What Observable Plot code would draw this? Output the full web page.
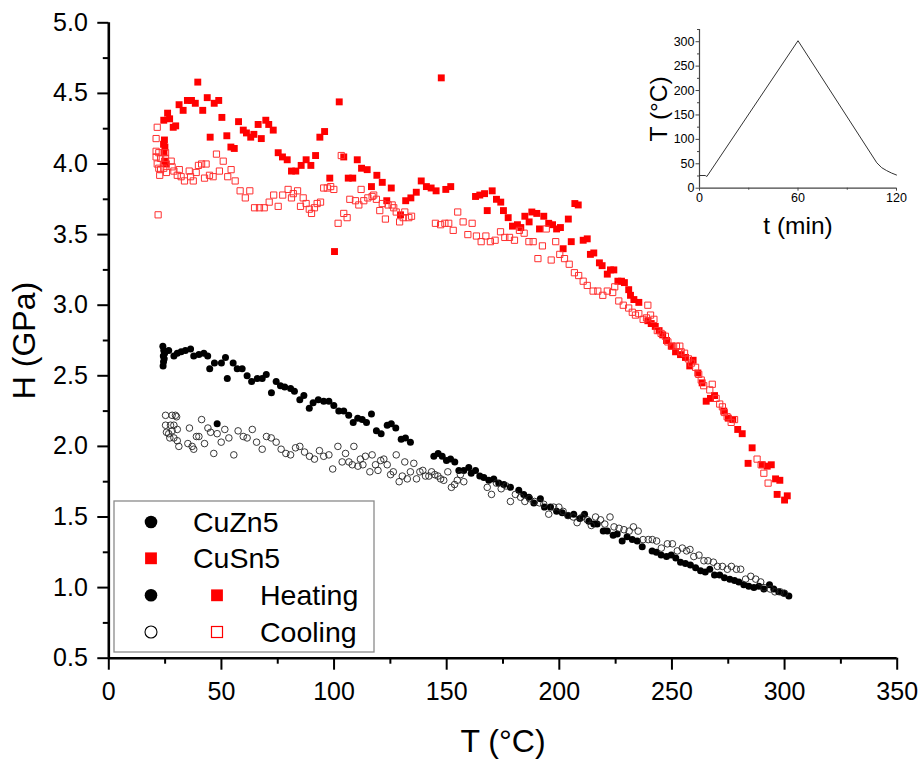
<!DOCTYPE html>
<html>
<head>
<meta charset="utf-8">
<script src="https://cdn.jsdelivr.net/npm/d3@7"></script>
<script src="https://cdn.jsdelivr.net/npm/@observablehq/plot@0.6"></script>
<style>
  html, body { margin: 0; padding: 0; background: white; }
  #wrap { position: relative; width: 921px; height: 761px; overflow: hidden; }
  #wrap svg { display: block; }
</style>
</head>
<body>
<div id="wrap"></div>
<script>
const FONT = "'Liberation Sans', Arial, Helvetica, sans-serif";

// ---- Main chart data: [T (°C), H (GPa)] ----
const cuZn5Heating = [
  [24.0,2.71],[24.4,2.68],[24.8,2.66],[24.2,2.64],[24.6,2.62],[24.3,2.60],[24.1,2.57],
  [26.6,2.68],[28.9,2.64],[30.4,2.66],[32.1,2.67],[34.0,2.68],[36.3,2.69],
  [37.7,2.64],[40.0,2.65],[42.2,2.66],[43.9,2.64],
  [44.8,2.55],[46.9,2.59],[50.0,2.59],[51.8,2.63],[52.6,2.48],
  [55.2,2.59],[57.0,2.55],[59.2,2.55],
  [61.4,2.50],[63.4,2.46],[65.9,2.48],[68.1,2.48],[69.9,2.51],
  [72.2,2.38],[74.3,2.46],[76.2,2.43],[78.1,2.42],[80.7,2.41],[82.4,2.39],
  [84.8,2.33],[86.6,2.36],[89.0,2.27],[90.7,2.31],[93.0,2.33],[95.4,2.32],[97.7,2.32],[99.9,2.29],[102.1,2.25],[104.3,2.25],[106.5,2.22],
  [48.1,2.16],
  [108.5,2.17],[110.5,2.20],[112.5,2.19],[114.4,2.17],[116.6,2.23],
  [118.8,2.11],[120.9,2.09],[123.6,2.15],[125.4,2.16],[127.4,2.13],
  [129.8,2.05],[131.7,2.06],[133.9,2.03],
  [144.3,1.93],[146.2,1.95],[148.0,1.93],[149.9,1.90],[151.7,1.91],[153.6,1.89],[155.4,1.83],
  [157.6,1.83],[159.8,1.85],[160.9,1.81],[162.8,1.83],[164.7,1.79],[166.5,1.78],[168.7,1.76],[170.9,1.77],[173.1,1.74],[175.4,1.73],[178.3,1.71],[182.0,1.69],[184.2,1.66],[186.5,1.64],[188.7,1.60],[191.6,1.63],[193.4,1.57],[196.1,1.57],[198.8,1.54],[201.3,1.53],[203.8,1.51],[206.4,1.52],[209.1,1.49],
  [211.2,1.52],[213.1,1.47],[215.3,1.45],[216.8,1.45],
  [219.5,1.40],[221.3,1.40],[223.9,1.37],[225.7,1.38],[227.9,1.33],[230.1,1.36],[232.4,1.34],[234.6,1.33],[236.8,1.29],
  [241.2,1.26],[243.1,1.25],[245.2,1.23],[247.6,1.22],[249.7,1.23],[251.7,1.21],[253.8,1.18],[256.0,1.17],[258.2,1.16],[260.5,1.14],[262.7,1.12],[264.8,1.11],[266.8,1.13],[268.9,1.09],[271.2,1.09],[273.3,1.07],[275.7,1.06],[277.8,1.05],[279.7,1.04],[281.9,1.02],[284.1,1.01],[286.4,1.00],[288.6,1.01],[290.8,0.99],[293.3,1.02],[295.2,0.99],[297.4,0.97],[299.7,0.96],[301.9,0.94]
];

const cuZn5Cooling = [
  [25.2,2.22],[28.1,2.22],[29.6,2.22],[30.1,2.21],[25.2,2.15],[27.4,2.15],[28.9,2.15],[25.6,2.10],[26.6,2.09],[28.1,2.11],[30.4,2.12],[27.1,2.06],[28.9,2.06],[30.4,2.04],[31.1,2.00],
  [35.8,2.13],[35.1,2.02],[37.0,2.00],[37.7,1.98],[38.9,2.07],[40.0,2.07],[41.2,2.19],[42.5,2.02],[44.0,2.13],[45.2,2.10],[46.6,1.95],[48.1,2.09],[49.9,2.03],[51.5,2.12],[53.3,2.06],[55.5,1.94],[57.4,2.11],[59.7,2.07],[61.4,2.06],[63.7,2.12],[65.6,2.03],[68.1,1.98],[70.0,2.07],[72.1,2.06],[74.3,2.03],[76.5,1.98],[78.6,1.95],[80.7,1.94],[82.9,1.99],[84.8,2.00],[86.9,1.96],[89.1,1.93],[91.3,1.91],[93.5,1.97],[95.4,1.93],[97.7,1.94],[99.4,1.84],[101.7,2.00],[103.6,1.89],[105.1,1.95],[106.6,1.89],
  [108.8,2.00],[108.1,1.87],[110.6,1.86],[111.7,1.91],[112.8,1.87],[113.9,1.93],[115.9,1.82],[116.9,1.94],[118.4,1.87],[119.5,1.83],[120.7,1.90],[122.1,1.91],[123.6,1.87],[125.1,1.80],[126.3,1.82],[127.6,1.94],[128.9,1.75],[130.3,1.79],[131.4,1.89],[132.5,1.77],[133.9,1.82],[135.4,1.88],[136.6,1.77],[138.1,1.82],[139.4,1.83],[140.6,1.79],[142.1,1.79],[143.3,1.82],[144.7,1.80],[146.1,1.79],[147.3,1.77],[148.7,1.76],[150.5,1.82],[152.1,1.71],[153.5,1.73],[154.7,1.76],[156.1,1.80],[157.6,1.75],
  [168.0,1.71],[169.9,1.66],[172.1,1.74],[174.2,1.70],[176.4,1.72],[178.3,1.61],[180.5,1.66],[182.8,1.64],[184.7,1.61],[186.8,1.63],[189.0,1.61],[191.2,1.60],[193.1,1.59],[195.3,1.52],[197.5,1.57],[199.8,1.57],[201.7,1.54],[203.9,1.51],[206.2,1.50],[207.9,1.46],
  [210.2,1.50],[212.4,1.48],[214.2,1.44],[216.1,1.50],[218.3,1.48],[220.2,1.45],[222.5,1.50],[224.3,1.43],[226.5,1.42],[228.7,1.41],[231.0,1.40],[232.9,1.43],[235.0,1.40],[237.2,1.34],[239.5,1.34],[241.3,1.34],[243.2,1.33],[245.3,1.28],[248.0,1.31],[250.2,1.31],[252.4,1.26],[254.6,1.28],[256.5,1.26],[258.0,1.27],[259.7,1.22],[262.0,1.23],[264.2,1.19],[266.0,1.19],[268.4,1.18],[270.2,1.15],[272.4,1.15],[274.6,1.13],[276.4,1.15],[278.6,1.13],[280.5,1.13],[282.7,1.06],[285.0,1.08],[287.2,1.06],[289.4,1.04],[290.9,1.00],[293.6,0.99],[295.7,0.97],[298.1,0.97],[300.0,0.96]
];

const cuSn5Heating = [
  [39.5,4.58],[43.7,4.47],[34.9,4.45],[36.7,4.45],[31.2,4.42],[33.0,4.38],[38.4,4.43],[41.7,4.38],[46.8,4.43],[48.8,4.45],[50.2,4.33],[26.1,4.36],[24.4,4.31],[27.0,4.32],[28.6,4.26],[29.7,4.27],
  [24.7,4.17],[24.3,4.14],[24.9,4.12],[24.5,4.08],[24.8,4.02],[25.5,4.00],
  [45.0,4.19],[52.4,4.20],[54.2,4.12],[55.7,4.11],[57.6,4.30],[59.7,4.24],[61.1,4.22],[63.0,4.19],[64.4,4.21],[67.7,4.18],[66.3,4.28],[69.7,4.31],[71.0,4.28],[73.0,4.24],[75.2,4.08],[77.1,4.05],[79.2,4.03],[81.1,3.95],[83.0,3.95],[85.4,3.99],[87.6,4.03],[89.7,3.99],[91.8,4.06],[93.7,4.19],[95.8,4.23],[98.1,3.90],[102.3,4.44],[104.3,4.05],[106.3,3.90],[100.2,3.38],
  [147.6,4.61],[110.3,4.03],[108.3,3.90],[112.2,3.97],[114.7,3.96],[116.6,3.84],[119.0,3.92],[121.4,3.87],[125.4,3.83],[123.4,3.74],[129.5,3.64],[131.8,3.74],[134.1,3.76],[136.5,3.80],[138.7,3.88],[141.0,3.84],[143.1,3.83],[145.3,3.81],[149.6,3.82],[151.8,3.84],
  [162.8,3.77],[164.7,3.78],[166.8,3.79],[170.2,3.81],[172.1,3.75],[174.0,3.73],[168.0,3.67],[175.2,3.67],[177.3,3.62],[179.2,3.56],[181.4,3.57],[182.9,3.55],[184.7,3.63],[186.6,3.59],[187.8,3.66],[190.0,3.65],[193.1,3.63],[191.2,3.54],[195.3,3.58],[197.0,3.57],[198.8,3.54],[200.5,3.55],[201.7,3.40],[204.0,3.61],[205.3,3.45],[206.9,3.72],[208.4,3.71],
  [210.6,3.46],[212.4,3.47],[213.8,3.36],[215.3,3.37],[217.8,3.30],[219.0,3.28],[221.3,3.22],[222.7,3.25],[224.2,3.25],[226.0,3.17],[227.6,3.17],[228.9,3.16],[230.8,3.11],[231.6,3.07],[233.1,3.04],[235.3,3.02],[239.3,2.89],[240.8,2.87],[242.6,2.85],[244.3,2.82],[245.9,2.79],[247.6,2.75],[249.7,2.71],[251.6,2.67],[253.8,2.65],[256.0,2.63],[259.4,2.61],[257.9,2.57],[261.5,2.52],[263.4,2.45],[265.2,2.32],[267.1,2.34],[268.9,2.36],[273.0,2.25],[275.0,2.20],[277.0,2.19],[279.2,2.12],[281.2,2.09],[285.6,1.99],[283.8,1.88],[290.1,1.87],[292.3,1.86],[294.1,1.87],[296.0,1.77],[297.9,1.76],[296.7,1.66],[300.0,1.62],[301.2,1.65]
];

const cuSn5Cooling = [
  [21.5,4.26],[21.0,4.18],[21.0,4.09],[21.0,4.05],[22.2,4.08],[23.0,4.04],[21.5,4.00],[22.2,3.97],[23.0,3.96],[22.6,3.92],[24.4,3.97],[25.2,4.08],[25.2,4.04],[21.9,3.64],
  [25.6,3.94],[27.7,4.02],[28.1,3.98],[28.9,3.95],[30.4,3.92],[31.3,3.96],[32.1,3.91],[33.6,3.88],[35.7,3.95],[36.3,3.91],[37.5,3.88],[38.8,3.94],[39.8,3.99],[41.2,4.00],[43.2,4.00],
  [42.5,3.90],[44.7,3.92],[46.3,3.91],[47.8,4.07],[49.1,3.95],[50.8,4.02],[52.8,3.91],[54.3,3.96],[56.1,3.88],[58.3,3.81],[60.6,3.76],[62.6,3.81],
  [64.7,3.69],[66.9,3.69],[69.0,3.69],[71.2,3.73],[73.2,3.78],[75.2,3.70],[77.2,3.78],[79.6,3.82],[81.1,3.76],[81.9,3.79],[83.8,3.81],[85.1,3.70],[86.3,3.76],[87.6,3.72],[89.0,3.68],[90.0,3.65],[91.3,3.69],[92.5,3.72],[94.0,3.73],
  [95.4,3.83],[97.0,3.83],[98.5,3.84],[99.9,3.82],[103.2,4.06],[101.8,3.58],[104.3,3.65],[105.8,3.62],[107.0,3.75],
  [109.5,3.74],[112.0,3.82],[113.2,3.74],[111.0,3.71],[115.0,3.76],[116.9,3.77],[117.6,3.78],[118.8,3.75],[120.3,3.67],[121.4,3.72],[122.8,3.61],[124.0,3.71],[125.8,3.71],[126.5,3.69],[127.6,3.66],[129.1,3.59],[130.7,3.62],[131.4,3.66],[133.2,3.62],[134.4,3.63],
  [145.0,3.58],[147.3,3.57],[149.2,3.58],[150.9,3.58],[152.9,3.53],[154.9,3.66],[157.3,3.59],[161.3,3.58],[159.4,3.50],[163.2,3.49],[165.3,3.45],[167.4,3.49],[169.4,3.45],[171.5,3.46],[173.9,3.52],[175.8,3.48],[177.9,3.48],[180.1,3.46],[182.3,3.53],[184.4,3.51],[186.5,3.45],[188.4,3.45],[190.5,3.33],[192.5,3.42],[194.2,3.54],[196.4,3.32],[198.4,3.45],[200.2,3.36],[202.3,3.33],[204.4,3.29],
  [206.7,3.23],[208.6,3.21],[210.6,3.17],[212.4,3.14],[215.0,3.10],[217.1,3.10],[219.3,3.07],[221.3,3.10],[223.7,3.09],[224.6,3.13],[226.4,3.03],[228.4,3.00],[230.8,2.98],[232.4,2.95],[233.8,2.93],[235.3,2.94],[237.2,2.90],[239.3,3.00],[238.7,2.91],[240.5,2.93],[242.0,2.90],[243.5,2.82],[245.2,2.80],[247.1,2.78],[248.2,2.74],[250.1,2.71],[252.0,2.71],[253.5,2.71],[254.1,2.67],[255.6,2.66],[257.3,2.62],[258.7,2.59],[260.5,2.56],[261.9,2.51],[263.0,2.47],[264.1,2.43],[266.8,2.40],[267.9,2.44],[269.6,2.34],[271.2,2.30],[272.4,2.28],[273.3,2.24],[274.5,2.21],[276.3,2.17],[277.8,2.19],[287.8,1.91],[289.6,1.87],[290.8,1.81],[292.7,1.74]
];

// ---- Main axes ticks ----
const xTicks = [0, 50, 100, 150, 200, 250, 300, 350];
const xMinorTicks = [25, 75, 125, 175, 225, 275, 325];
const yTicks = [0.5, 1.0, 1.5, 2.0, 2.5, 3.0, 3.5, 4.0, 4.5, 5.0];
const yMinorTicks = [0.75, 1.25, 1.75, 2.25, 2.75, 3.25, 3.75, 4.25, 4.75];

// ---- Inset data: temperature programme ----
const insetTime = [0, 3.5, 4.5, 60, 108, 111, 114, 117, 120];
const insetTemp = [26, 26, 24, 302, 52, 42, 36, 31, 27];
const insetXTicks = [0, 60, 120];
const insetXMinor = [30, 90];
const insetYTicks = [0, 50, 100, 150, 200, 250, 300];
const insetYMinor = [25, 75, 125, 175, 225, 275, 325];

// ---- Legend ----
const legendSeries = ["CuZn5", "CuSn5"];
const legendModes = ["Heating", "Cooling"];

const toObj = arr => arr.map(([T, H]) => ({T, H}));
const RED = "#ff0000";
const RED_OPEN = "#ff3030";

const main = Plot.plot({
  width: 921,
  height: 761,
  marginLeft: 108.3,
  marginRight: 24.3,
  marginTop: 22.3,
  marginBottom: 103.3,
  x: {domain: [0, 350]},
  y: {domain: [0.5, 5.0]},
  style: {fontFamily: FONT, background: "white", color: "black", overflow: "visible"},
  marks: [
    Plot.axisY(yTicks, {tickSize: 11, tickPadding: 10, strokeWidth: 2, fontSize: 25, tickFormat: d => d.toFixed(1), label: null}),
    Plot.axisY(yMinorTicks, {tickSize: 5.5, strokeWidth: 2, tickFormat: () => "", label: null}),
    Plot.axisX(xTicks, {tickSize: 12, tickPadding: 12, strokeWidth: 2, fontSize: 25, tickFormat: d => String(d), label: null}),
    Plot.axisX(xMinorTicks, {tickSize: 6, strokeWidth: 2, tickFormat: () => "", label: null}),
    Plot.ruleX([0], {strokeWidth: 2.6}),
    Plot.ruleY([0.5], {strokeWidth: 2.6}),
    Plot.dot(toObj(cuZn5Heating), {x: "T", y: "H", r: 3.5, fill: "black", stroke: "none"}),
    Plot.dot(toObj(cuZn5Cooling), {x: "T", y: "H", r: 3.3, fill: "none", stroke: "#222", strokeWidth: 0.9}),
    Plot.dot(toObj(cuSn5Heating), {x: "T", y: "H", r: 3.9, symbol: "square", fill: RED, stroke: "none"}),
    Plot.dot(toObj(cuSn5Cooling), {x: "T", y: "H", r: 3.5, symbol: "square", fill: "none", stroke: RED_OPEN, strokeWidth: 1}),
    Plot.text(["T (°C)"], {text: d => d, frameAnchor: "bottom", dy: 83.8, fontSize: 32, textAnchor: "middle", lineAnchor: "middle"}),
    Plot.text(["H (GPa)"], {text: d => d, frameAnchor: "left", dx: -84, rotate: -90, fontSize: 32, textAnchor: "middle", lineAnchor: "middle"})
  ]
});

const insetData = insetTime.map((t, i) => ({t, T: insetTemp[i]}));
const inset = Plot.plot({
  width: 280,
  height: 230,
  marginLeft: 69,
  marginRight: 14,
  marginTop: 9,
  marginBottom: 62.3,
  x: {domain: [0, 120]},
  y: {domain: [0, 325]},
  style: {fontFamily: FONT, background: "transparent", color: "black", overflow: "visible"},
  marks: [
    Plot.axisY(insetYTicks, {tickSize: 3.5, tickPadding: 1.5, stroke: "#444", strokeWidth: 1, fill: "black", fontSize: 12.5, label: null}),
    Plot.axisY(insetYMinor, {tickSize: 2, stroke: "#444", strokeWidth: 1, tickFormat: () => "", label: null}),
    Plot.axisX(insetXTicks, {tickSize: 3, tickPadding: 2.3, stroke: "#444", strokeWidth: 1, fill: "black", fontSize: 12.5, label: null}),
    Plot.axisX(insetXMinor, {tickSize: 2, stroke: "#444", strokeWidth: 1, tickFormat: () => "", label: null}),
    Plot.ruleX([0], {stroke: "#444", strokeWidth: 1.2}),
    Plot.ruleY([0], {stroke: "#444", strokeWidth: 1.2}),
    Plot.line(insetData, {x: "t", y: "T", stroke: "#333", strokeWidth: 1}),
    Plot.text(["T (°C)"], {text: d => d, frameAnchor: "left", dx: -40, rotate: -90, fontSize: 24.5, textAnchor: "middle", lineAnchor: "middle"}),
    Plot.text(["t (min)"], {text: d => d, frameAnchor: "bottom", dy: 37.5, fontSize: 24.5, textAnchor: "middle", lineAnchor: "middle"})
  ]
});

const wrap = document.getElementById("wrap");
wrap.appendChild(main);
inset.style.position = "absolute";
inset.style.left = "630px";
inset.style.top = "20px";
inset.style.maxWidth = "none";
wrap.appendChild(inset);

// Legend box (HTML-positioned SVG)
const lg = d3.create("svg")
  .attr("width", 262).attr("height", 153)
  .style("position", "absolute").style("left", "113px").style("top", "500px")
  .style("font-family", FONT);
lg.append("rect").attr("x", 1).attr("y", 1).attr("width", 260).attr("height", 151)
  .attr("fill", "white").attr("stroke", "#8a8a8a").attr("stroke-width", 1.3);
const rowY = [22, 58.3, 95.3, 132];
const c1 = 38, c2 = 104, t1 = 80, t2 = 147;
const fs = 28.5;
// CuZn5 row
lg.append("circle").attr("cx", c1).attr("cy", rowY[0]).attr("r", 6.3).attr("fill", "black");
lg.append("text").attr("x", t1).attr("y", rowY[0] + 10).attr("font-size", fs).text(legendSeries[0]);
// CuSn5 row
lg.append("rect").attr("x", c1 - 5.9).attr("y", rowY[1] - 5.9).attr("width", 11.8).attr("height", 11.8).attr("fill", RED);
lg.append("text").attr("x", t1).attr("y", rowY[1] + 10).attr("font-size", fs).text(legendSeries[1]);
// Heating row
lg.append("circle").attr("cx", c1).attr("cy", rowY[2]).attr("r", 6.3).attr("fill", "black");
lg.append("rect").attr("x", c2 - 5.9).attr("y", rowY[2] - 5.9).attr("width", 11.8).attr("height", 11.8).attr("fill", RED);
lg.append("text").attr("x", t2).attr("y", rowY[2] + 10).attr("font-size", fs).text(legendModes[0]);
// Cooling row
lg.append("circle").attr("cx", c1).attr("cy", rowY[3]).attr("r", 6).attr("fill", "none").attr("stroke", "black").attr("stroke-width", 1.1);
lg.append("rect").attr("x", c2 - 5.5).attr("y", rowY[3] - 5.5).attr("width", 11).attr("height", 11).attr("fill", "none").attr("stroke", RED).attr("stroke-width", 1.2);
lg.append("text").attr("x", t2).attr("y", rowY[3] + 10).attr("font-size", fs).text(legendModes[1]);
wrap.appendChild(lg.node());
</script>
</body>
</html>
